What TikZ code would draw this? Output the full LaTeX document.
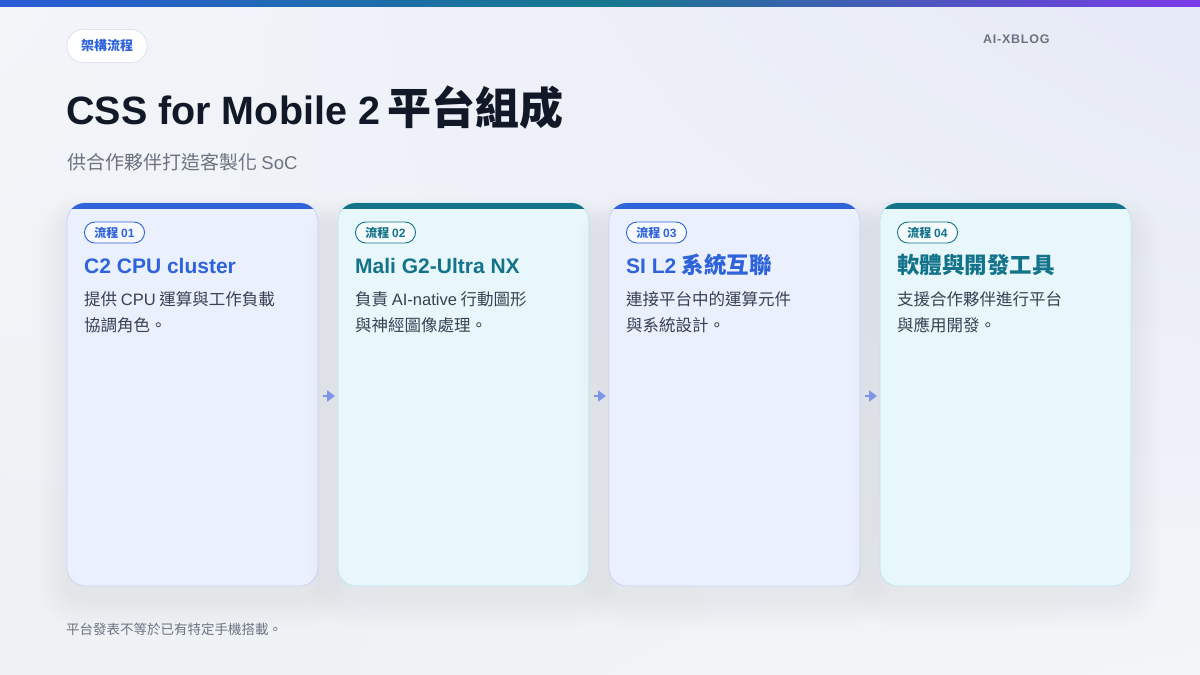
\documentclass[tikz,border=0pt]{standalone}
\usepackage{fontspec}
\setmainfont{Noto Sans CJK TC}
\newfontfamily\lat{Liberation Sans}
\newfontfamily\latsp[LetterSpace=6]{Liberation Sans}
\usetikzlibrary{arrows.meta,shadings}
\definecolor{bgA}{HTML}{F3F5F9}
\definecolor{bgB}{HTML}{E6EAF7}
\definecolor{bgC}{HTML}{EEF1F4}
\definecolor{bgD}{HTML}{F3F5F8}
\definecolor{barL}{HTML}{2A5BD7}
\definecolor{barM}{HTML}{16788E}
\definecolor{barR}{HTML}{7B3AE8}
\definecolor{blueA}{HTML}{2E63DA}
\definecolor{tealA}{HTML}{13738A}
\definecolor{fillB}{HTML}{EAF0FD}
\definecolor{fillT}{HTML}{E8F7FB}
\definecolor{lineB}{HTML}{C9D4F4}
\definecolor{lineT}{HTML}{BDE7E8}
\definecolor{inkD}{HTML}{111827}
\definecolor{inkG}{HTML}{6B7280}
\definecolor{inkB}{HTML}{374151}
\definecolor{arr}{HTML}{7D94E8}
\definecolor{pillLine}{HTML}{DDE2EC}
\definecolor{shad}{HTML}{5A6A90}
\tikzset{
  cardbox/.style={rectangle, rounded corners=18pt, minimum width=251pt, minimum height=383pt, line width=0.8pt, inner sep=0pt, outer sep=0pt},
  badge/.style={rectangle, rounded corners=10.5pt, minimum height=21pt, inner xsep=10pt, inner ysep=0pt, line width=0.9pt, fill=white, fill opacity=0.6, text opacity=1, font=\bfseries\fontsize{12}{14}\selectfont},
  ctitle/.style={anchor=base west, inner sep=0pt, font=\bfseries\fontsize{22.5}{26}\selectfont},
  cbody/.style={anchor=base west, inner sep=0pt, text=inkB, font=\fontsize{16.5}{19}\selectfont},
  flow/.style={draw=arr, line width=2.4pt, -{Triangle[length=8pt,width=11pt]}, shorten <=5pt, shorten >=3pt}
}
\newcommand\lt[1]{{\lat\fontsize{21}{24}\selectfont #1}}
\newcommand\mkcard[9]{%
  \foreach \k in {1,...,12}{
    \fill[shad, opacity=0.0045, rounded corners=18pt+\k*2pt]
      (#1-\k*2.5, 203-\k*1.5+12) rectangle (#1+251+\k*2.5, 586+\k*2.5+12);
  }
  \node[cardbox, fill=#3, draw=#4] (card#2) at (#1+125.5, 394.5) {};
  \begin{scope}
    \clip[rounded corners=18pt] (#1,203) rectangle (#1+251,586);
    \fill[#5] (#1-2,201) rectangle (#1+253,209);
  \end{scope}
  \node[badge, draw=#5, text=#5, anchor=west] (badge#2) at (#1+17, 232.5) {流程 {\lat 0#2}};
  \node[ctitle, text=#5] (title#2) at (#1+17, 273) {#6};
  \node[cbody] (la#2) at (#1+17, 305) {#7};
  \node[cbody] (lb#2) at (#1+17, 331) {#8};
}
\begin{document}
\begin{tikzpicture}[x=1pt,y=-1pt]
\useasboundingbox (0,0) rectangle (1200,675);
\shade[upper left=bgA, upper right=bgB, lower left=bgC, lower right=bgD] (0,0) rectangle (1200,675);
\shade[left color=barL, right color=barR, middle color=barM] (0,0) rectangle (1200,6);
% tag
\node[rectangle, rounded corners=16pt, minimum width=80pt, minimum height=33pt, fill=white, draw=pillLine, line width=0.8pt, text=blueA, font=\bfseries\fontsize{13}{15}\selectfont] (tag) at (107,46) {架構流程};
\node[anchor=base west, inner sep=0pt, text=inkG, font=\bfseries\fontsize{12.5}{14}\selectfont] (brand) at (983,43) {\latsp AI-XBLOG};
% title
\node[anchor=base west, inner sep=0pt, text=inkD] (maintitle) at (66,124) {{\lat\bfseries\fontsize{39.5}{46}\selectfont CSS for Mobile 2}\hspace{7pt}{\bfseries\fontsize{44}{48}\selectfont 平台組成}};
\node[anchor=base west, inner sep=0pt, text=inkG, font=\fontsize{19}{22}\selectfont] (subtitle) at (67,169) {供合作夥伴打造客製化 {\lat\fontsize{18.5}{22}\selectfont SoC}};
% cards
\mkcard{67}{1}{fillB}{lineB}{blueA}{\lt{C2 CPU cluster}}{提供 {\lat CPU} 運算與工作負載}{協調角色。}{}
\mkcard{338}{2}{fillT}{lineT}{tealA}{\lt{Mali G2-Ultra NX}}{負責 {\lat AI-native} 行動圖形}{與神經圖像處理。}{}
\mkcard{609}{3}{fillB}{lineB}{blueA}{\lt{SI L2} 系統互聯}{連接平台中的運算元件}{與系統設計。}{}
\mkcard{880}{4}{fillT}{lineT}{tealA}{軟體與開發工具}{支援合作夥伴進行平台}{與應用開發。}{}
% connectors
\draw[flow] ([yshift=-1.5pt]card1.east) -- ([yshift=-1.5pt]card2.west);
\draw[flow] ([yshift=-1.5pt]card2.east) -- ([yshift=-1.5pt]card3.west);
\draw[flow] ([yshift=-1.5pt]card3.east) -- ([yshift=-1.5pt]card4.west);
% footer
\node[anchor=base west, inner sep=0pt, text=inkG, font=\fontsize{13.5}{16}\selectfont] (footer) at (66,634) {平台發表不等於已有特定手機搭載。};
\end{tikzpicture}
\end{document}
